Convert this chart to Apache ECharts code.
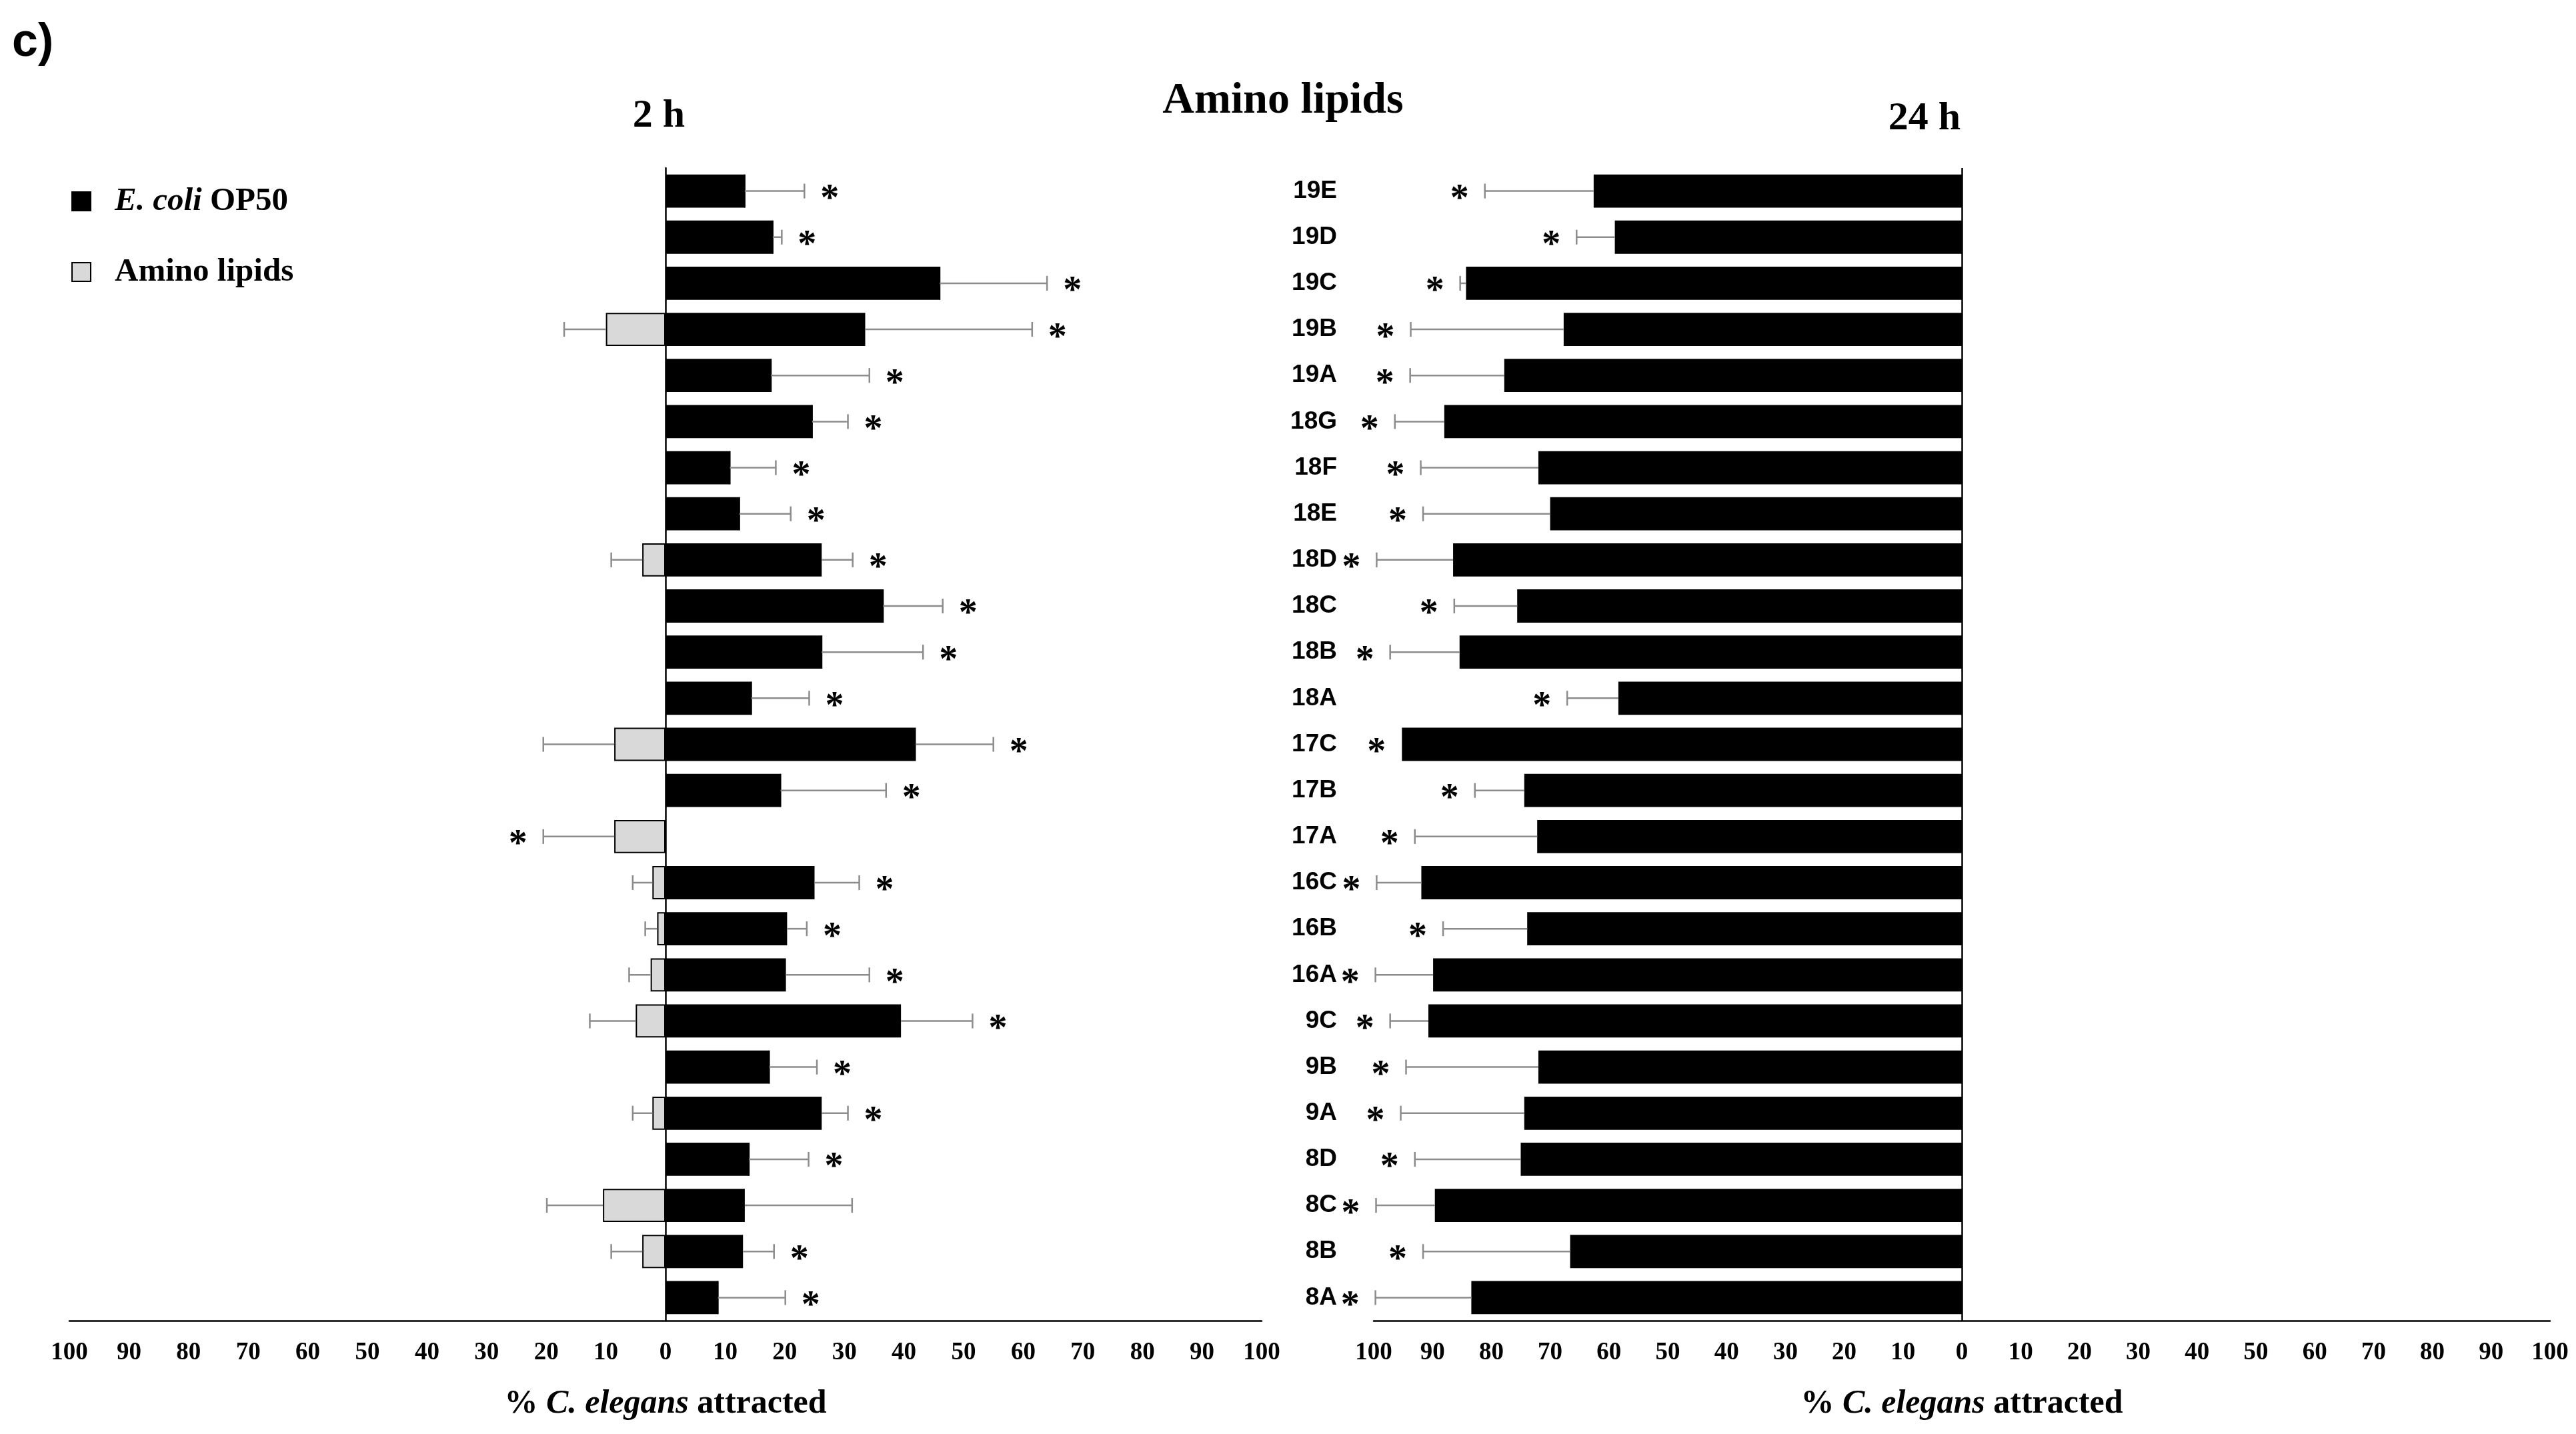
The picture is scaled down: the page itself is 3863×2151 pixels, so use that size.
<!DOCTYPE html>
<html><head><meta charset="utf-8">
<script src="https://cdn.jsdelivr.net/npm/echarts@6/dist/echarts.min.js"></script>
<style>html,body{margin:0;padding:0;background:#fff}#c{width:3863px;height:2151px}</style>
</head><body><div id="c"></div>
<script>
const categories=['19E','19D','19C','19B','19A','18G','18F','18E','18D','18C','18B','18A','17C','17B','17A','16C','16B','16A','9C','9B','9A','8D','8C','8B','8A'];
// 2 h: attraction to E. coli OP50 (black) and to amino lipids (gray, plotted to the left)
const ecoli2h=[13.3,18,46,33.5,17.7,24.6,10.8,12.4,26.2,36.5,26.2,14.4,42,19.3,0,25,20.4,20.2,39.5,17.4,26.2,14,13.3,13,8.8];
const ecoli2hErr=[10,1.5,18,28,16.5,6,7.7,8.6,5.2,10,17,9.7,13,17.7,0,7.5,3.3,14,12,8,4.4,10,18,5.2,11.3];
const ecoli2hStar=[1,1,1,1,1,1,1,1,1,1,1,1,1,1,0,1,1,1,1,1,1,1,0,1,1];
const lipid2h=[0,0,0,10,0,0,0,0,3.9,0,0,0,8.6,0,8.6,2.2,1.4,2.5,5,0,2.2,0,10.5,3.9,0];
const lipid2hErr=[0,0,0,7,0,0,0,0,5.2,0,0,0,11.9,0,11.9,3.3,2,3.6,7.7,0,3.3,0,9.4,5.2,0];
const lipid2hStar=[0,0,0,0,0,0,0,0,0,0,0,0,0,0,1,0,0,0,0,0,0,0,0,0,0];
// 24 h: attraction to E. coli OP50 (plotted to the left)
const ecoli24h=[62.6,59,84.3,67.7,77.8,88,72,70,86.5,75.6,85.4,58.4,95.2,74.4,72.2,91.9,73.9,89.9,90.7,72,74.4,75,89.6,66.6,83.4];
const ecoli24hErr=[18.5,6.5,1,26,16,8.4,20,21.6,13,10.7,11.8,8.7,0,8.4,20.8,7.6,14.3,9.8,6.5,22.5,21,18,10,25,16.3];
const ticks=[-100,-90,-80,-70,-60,-50,-40,-30,-20,-10,0,10,20,30,40,50,60,70,80,90,100];

const serif='Liberation Serif';
function errItem(params,api){
  const v=api.value(0),c=api.value(1),e=api.value(2),star=api.value(3);
  const s=v<0?-1:1;
  const p0=api.coord([v,c]);const p1=api.coord([v+s*e,c]);
  const h=api.size([0,1])[1]*0.16;
  const ch=[];
  if(e>0){
    ch.push({type:'line',shape:{x1:p0[0],y1:p0[1],x2:p1[0],y2:p1[1]},style:{stroke:'#8c8c8c',lineWidth:2.5}});
    ch.push({type:'line',shape:{x1:p1[0],y1:p1[1]-h,x2:p1[0],y2:p1[1]+h},style:{stroke:'#8c8c8c',lineWidth:2.5}});
  }
  if(star){
    ch.push({type:'text',style:{text:'*',x:p1[0]+s*38,y:p1[1]+14,align:'center',verticalAlign:'middle',font:'bold 56px "'+serif+'"',fill:'#000'}});
  }
  return {type:'group',children:ch};
}
const xAx=(gi)=>({gridIndex:gi,type:'value',min:-100,max:100,interval:10,
  axisLine:{show:true,onZero:false,lineStyle:{color:'#000',width:2.5}},axisTick:{show:false},splitLine:{show:false},
  axisLabel:{formatter:v=>Math.abs(v),color:'#000',fontFamily:serif,fontWeight:'bold',fontSize:37,margin:30},
  name:'{b|% }{i|C. elegans}{b| attracted}',nameLocation:'middle',nameGap:100,
  nameTextStyle:{rich:{b:{fontFamily:serif,fontWeight:'bold',fontSize:50,color:'#000'},i:{fontFamily:serif,fontWeight:'bold',fontStyle:'italic',fontSize:50,color:'#000'}}}});
const chart=echarts.init(document.getElementById('c'));
chart.setOption({
  animation:false,
  grid:[{left:104,width:1788,top:252,bottom:170},{left:2060,width:1764,top:252,bottom:170}],
  xAxis:[xAx(0),xAx(1)],
  yAxis:[
    {gridIndex:0,type:'category',data:categories,inverse:true,axisLabel:{show:false},axisTick:{show:false},
     axisLine:{onZero:true,lineStyle:{color:'#000',width:2.5}}},
    {gridIndex:1,type:'category',data:categories,inverse:true,axisTick:{show:false},
     axisLine:{show:false},axisLabel:{color:'#000',fontFamily:'Liberation Sans',fontWeight:'bold',fontSize:37,margin:55}}
  ],
  graphic:[
    {type:'text',left:18,top:30,style:{text:'c)',font:'bold 70px "Liberation Sans"',fill:'#000'}},
    {type:'text',x:988,y:174,style:{text:'2 h',align:'center',verticalAlign:'middle',font:'bold 60px "'+serif+'"',fill:'#000'}},
    {type:'text',x:1924,y:152,style:{text:'Amino lipids',align:'center',verticalAlign:'middle',font:'bold 66px "'+serif+'"',fill:'#000'}},
    {type:'text',x:2886,y:178,style:{text:'24 h',align:'center',verticalAlign:'middle',font:'bold 60px "'+serif+'"',fill:'#000'}},
    {type:'rect',shape:{x:108,y:288,width:28,height:28},style:{fill:'#000',stroke:'#000',lineWidth:2}},
    {type:'rect',shape:{x:108,y:394,width:28,height:28},style:{fill:'#d9d9d9',stroke:'#000',lineWidth:2}},
    {type:'text',x:172,y:302,style:{text:'{i|E. coli}{b| OP50}',verticalAlign:'middle',rich:{i:{font:'bold italic 49px "'+serif+'"',fill:'#000'},b:{font:'bold 49px "'+serif+'"',fill:'#000'}}}},
    {type:'text',x:172,y:408,style:{text:'Amino lipids',verticalAlign:'middle',font:'bold 49px "'+serif+'"',fill:'#000'}}
  ],
  series:[
    {type:'bar',xAxisIndex:0,yAxisIndex:0,stack:'a',barCategoryGap:'28%',data:ecoli2h,itemStyle:{color:'#000'}},
    {type:'bar',xAxisIndex:0,yAxisIndex:0,stack:'a',data:lipid2h.map(v=>-v),itemStyle:{color:'#d9d9d9',borderColor:'#000',borderWidth:2}},
    {type:'custom',xAxisIndex:0,yAxisIndex:0,renderItem:errItem,data:ecoli2h.map((v,i)=>[v,i,ecoli2hErr[i],ecoli2hStar[i]]),z:5},
    {type:'custom',xAxisIndex:0,yAxisIndex:0,renderItem:errItem,data:lipid2h.map((v,i)=>[-v||-0.0001,i,lipid2hErr[i],lipid2hStar[i]]),z:5},
    {type:'bar',xAxisIndex:1,yAxisIndex:1,barCategoryGap:'28%',data:ecoli24h.map(v=>-v),itemStyle:{color:'#000'},
     markLine:{silent:true,symbol:'none',label:{show:false},lineStyle:{color:'#000',width:2.5,type:'solid'},data:[{xAxis:0}]}},
    {type:'custom',xAxisIndex:1,yAxisIndex:1,renderItem:errItem,data:ecoli24h.map((v,i)=>[-v,i,ecoli24hErr[i],1]),z:5}
  ]
});
</script></body></html>
